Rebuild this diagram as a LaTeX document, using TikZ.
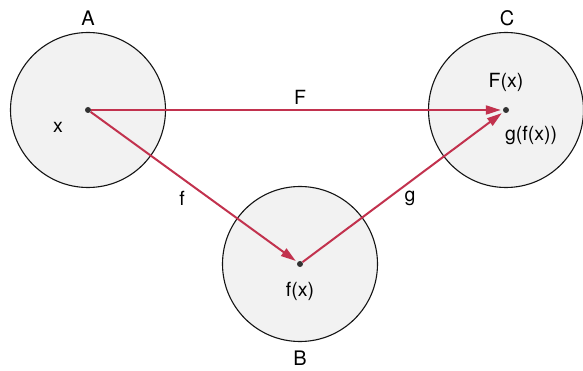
\documentclass[tikz,border=0pt]{standalone}
\usepackage{fontspec}
\setmainfont{TeX Gyre Heros}
\usetikzlibrary{arrows.meta}

\begin{document}
\begin{tikzpicture}[x=1pt,y=-1pt,
  setcircle/.style={circle,draw={rgb,255:red,20;green,20;blue,20},line width=1.1pt,fill={rgb,255:red,242;green,242;blue,242},minimum size=155pt,inner sep=0pt},
  elem/.style={circle,fill={rgb,255:red,50;green,50;blue,50},minimum size=6pt,inner sep=0pt},
  maparrow/.style={draw={rgb,255:red,194;green,50;blue,78},line width=2pt,-{Triangle[length=15pt,width=9pt]},shorten >=2pt},
  setname/.style={font=\fontsize{20}{24}\selectfont},
  lbl/.style={font=\fontsize{19.5}{23}\selectfont}]
% 583 x 371, light appearance
\useasboundingbox[fill=white] (0,0) rectangle (583,371);
\node[setcircle] (circA) at (88,110) {};
\node[setcircle] (circB) at (300,264) {};
\node[setcircle] (circC) at (506,110) {};
\node[setname] (nameA) at (88,18) {A};
\node[setname] (nameB) at (300,358) {B};
\node[setname] (nameC) at (507,18) {C};
\node[elem] (x) at (88,110) {};
\node[elem] (fx) at (300,264) {};
\node[elem] (Fx) at (506,110) {};
\node[lbl] (xlbl) at (58,127) {x};
\node[lbl] (fxlbl) at (300,291) {f(x)};
\node[lbl] (Fxlbl) at (506,82) {F(x)};
\node[lbl] (gfxlbl) at (531,135) {g(f(x))};
\draw[maparrow] (x) -- (Fx);
\draw[maparrow] (x) -- (fx);
\draw[maparrow] (fx) -- (Fx);
\node[lbl] (Flbl) at (300,97) {F};
\node[lbl] (flbl) at (182,198) {f};
\node[lbl] (glbl) at (410,198) {g};
\end{tikzpicture}
\end{document}
